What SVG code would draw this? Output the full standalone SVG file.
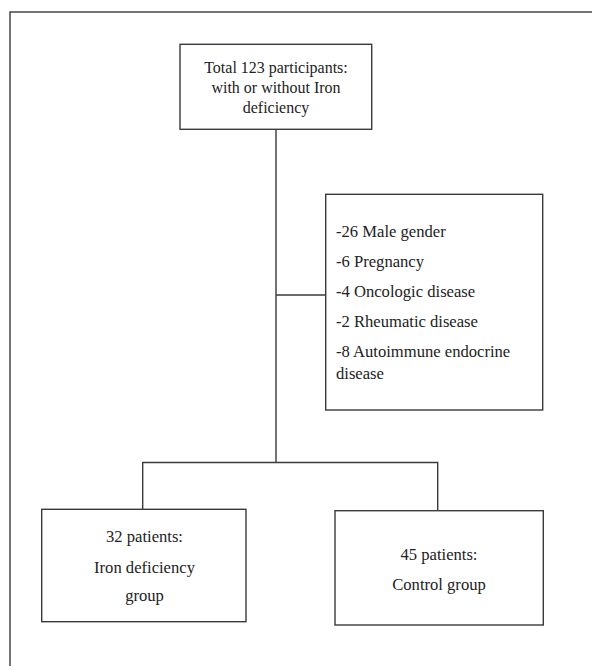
<svg xmlns="http://www.w3.org/2000/svg" width="592" height="666" viewBox="0 0 592 666">
<style>
.box{fill:#fff;stroke:#3a3a3a;stroke-width:1.4}
.ln{fill:none;stroke:#3a3a3a;stroke-width:1.4}
text{font-family:"Liberation Serif","Times New Roman",serif;font-size:16px;fill:#222}
.c{text-anchor:middle}
.m{font-size:16.6px}
</style>
<rect x="0" y="0" width="592" height="666" fill="#fff"/>
<rect class="ln" x="10" y="12" width="620" height="700"/>
<g id="connectors">
<line class="ln" x1="276" y1="129.3" x2="276" y2="462.5"/>
<line class="ln" x1="276" y1="295" x2="325.7" y2="295"/>
<polyline class="ln" points="142.7,509.3 142.7,462.5 437.7,462.5 437.7,510.7"/>
</g>
<g id="total">
<rect class="box" x="180" y="44.3" width="191.7" height="85"/>
<text class="c" transform="translate(276,73) scale(1,1.1)">Total 123 participants:</text>
<text class="c" transform="translate(276,92.5) scale(1,1.1)">with or without Iron</text>
<text class="c" transform="translate(276,112.5) scale(1,1.1)">deficiency</text>
</g>
<g id="excluded">
<rect class="box" x="325.7" y="194.3" width="217" height="215.7"/>
<text class="m" transform="translate(336,237.3) scale(1,1.03)">-26 Male gender</text>
<text class="m" transform="translate(336,267.3) scale(1,1.03)">-6 Pregnancy</text>
<text class="m" transform="translate(336,297.3) scale(1,1.03)">-4 Oncologic disease</text>
<text class="m" transform="translate(336,327.3) scale(1,1.03)">-2 Rheumatic disease</text>
<text class="m" transform="translate(336,357.3) scale(1,1.03)">-8 Autoimmune endocrine</text>
<text class="m" transform="translate(336,379) scale(1,1.03)">disease</text>
</g>
<g id="iron">
<rect class="box" x="41.7" y="509.3" width="204.3" height="112.4"/>
<text class="c m" transform="translate(144.5,542) scale(1,1.06)">32 patients:</text>
<text class="c m" transform="translate(144.5,572.5) scale(1,1.06)">Iron deficiency</text>
<text class="c m" transform="translate(144.5,601) scale(1,1.06)">group</text>
</g>
<g id="control">
<rect class="box" x="335" y="510.7" width="208.3" height="114.3"/>
<text class="c m" transform="translate(439,560) scale(1,1.06)">45 patients:</text>
<text class="c m" transform="translate(439,589.5) scale(1,1.06)">Control group</text>
</g>
</svg>
